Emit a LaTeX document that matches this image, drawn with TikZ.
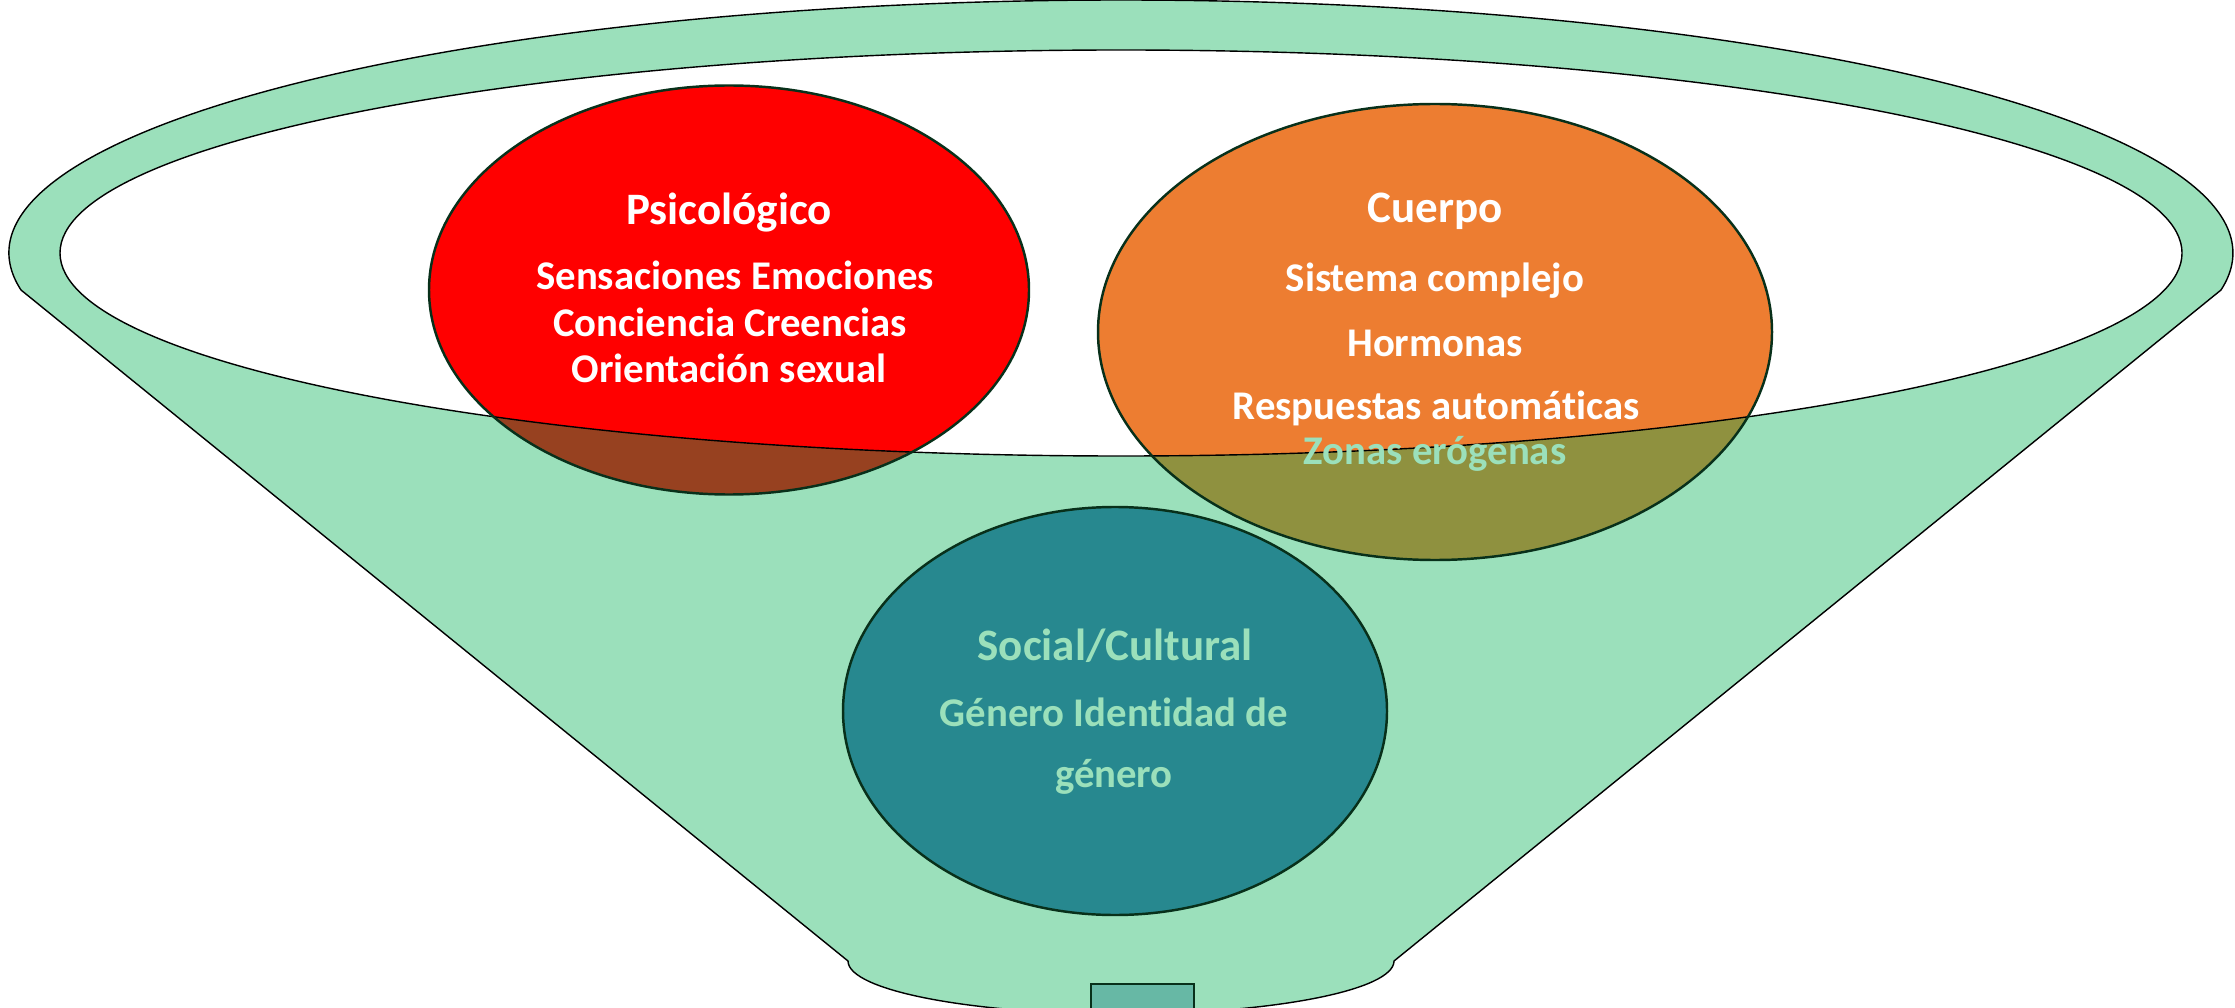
\documentclass[tikz,border=0pt]{standalone}
\usepackage{fontspec}
\setmainfont{Carlito}[Ligatures=NoCommon]
\definecolor{funnelgreen}{RGB}{155,224,187}
\definecolor{psired}{RGB}{255,0,0}
\definecolor{psibrown}{RGB}{151,65,32}
\definecolor{bodyorange}{RGB}{237,125,49}
\definecolor{bodyolive}{RGB}{143,145,63}
\definecolor{socteal}{RGB}{39,136,143}
\definecolor{spoutgreen}{RGB}{103,184,165}
\definecolor{blobedge}{RGB}{8,48,26}
\begin{document}
\begin{tikzpicture}[
        bodytext/.style={text=white, font=\bfseries\fontsize{11.6}{14}\selectfont, anchor=base},
        titletext/.style={bodytext, font=\bfseries\fontsize{12.8}{15}\selectfont},
        rim/.style={draw=black, line width=0.4pt},
        blob/.style={draw=blobedge, line width=0.7pt}
    ]
        \useasboundingbox (0,0) rectangle (22.35,-10.08);
        \clip (0,0) rectangle (22.35,-10.08);

        % funnel
        \filldraw[fill=funnelgreen, rim] (0.21,-2.90)
            arc[start angle=188.41, end angle=-8.41, x radius=11.12, y radius=2.53]
            -- (13.94,-9.61)
            arc[start angle=0, end angle=-180, x radius=2.73, y radius=0.53]
            -- cycle;
        \fill[white] (11.21,-2.53) ellipse[x radius=10.61, y radius=2.03];
        \draw[fill=spoutgreen, draw=blobedge, line width=0.8pt] (10.91,-9.84) rectangle (11.94,-10.30);

        % circles
        \fill[psired] (7.29,-2.90) ellipse[x radius=3.00, y radius=2.045];
        \fill[bodyorange] (14.35,-3.32) ellipse[x radius=3.37, y radius=2.28];
        \fill[socteal] (11.15,-7.11) ellipse[x radius=2.72, y radius=2.04];

        \begin{scope}
            \clip (7.29,-2.90) ellipse[x radius=3.00, y radius=2.045];
            \fill[psibrown, even odd rule] (0,0) rectangle (22.35,-10.08)
                (11.21,-2.53) ellipse[x radius=10.61, y radius=2.03];
        \end{scope}
        \begin{scope}
            \clip (14.35,-3.32) ellipse[x radius=3.37, y radius=2.28];
            \fill[bodyolive, even odd rule] (0,0) rectangle (22.35,-10.08)
                (11.21,-2.53) ellipse[x radius=10.61, y radius=2.03];
        \end{scope}

        \draw[rim] (11.21,-2.53) ellipse[x radius=10.61, y radius=2.03];
        \draw[blob] (7.29,-2.90) ellipse[x radius=3.00, y radius=2.045];
        \draw[blob] (14.35,-3.32) ellipse[x radius=3.37, y radius=2.28];
        \draw[blob] (11.15,-7.11) ellipse[x radius=2.72, y radius=2.04];

        \node[titletext] (psi) at (7.29,-2.25) {Psicológico};
        \node[bodytext] (psia) at (7.35,-2.90) {Sensaciones Emociones};
        \node[bodytext] (psib) at (7.30,-3.37) {Conciencia Creencias};
        \node[bodytext] (psic) at (7.29,-3.83) {Orientación sexual};

        \node[titletext] (cue) at (14.35,-2.23) {Cuerpo};
        \node[bodytext] (cuea) at (14.35,-2.92) {Sistema complejo};
        \node[bodytext] (cueb) at (14.35,-3.57) {Hormonas};
        \node[bodytext] (cuec) at (14.36,-4.20) {Respuestas automáticas};
        \node[bodytext, text=funnelgreen] (cued) at (14.35,-4.65) {Zonas erógenas};

        \node[titletext, text=funnelgreen] (soc) at (11.15,-6.60) {Social/Cultural};
        \node[bodytext, text=funnelgreen] (soca) at (11.14,-7.26) {Género Identidad de};
        \node[bodytext, text=funnelgreen] (socb) at (11.14,-7.87) {género};
    \end{tikzpicture}
\end{document}
